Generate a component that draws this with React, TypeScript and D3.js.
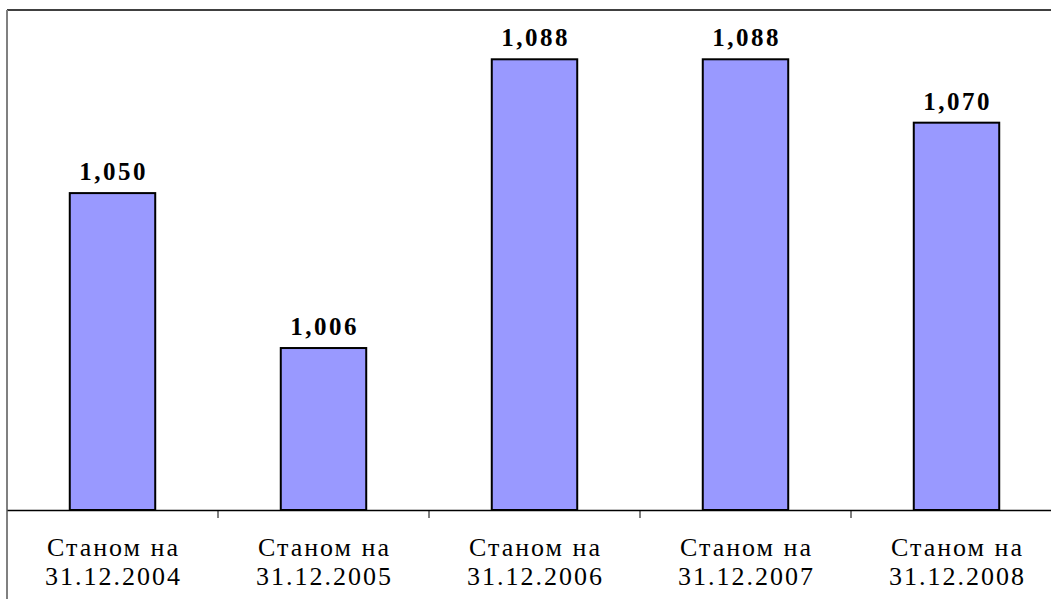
import React, { useEffect, useRef } from 'react';
import * as d3 from 'd3';

const CATEGORIES = ['31.12.2004', '31.12.2005', '31.12.2006', '31.12.2007', '31.12.2008'];
const CATEGORY_PREFIX = 'Станом на';
const VALUES = [1.05, 1.006, 1.088, 1.088, 1.07];
const Y_DOMAIN = [0.96, 1.102];

const W = 1051;
const H = 599;
const FONT = '"Liberation Serif", "Times New Roman", serif';

const App: React.FC = () => {
  const svgRef = useRef<SVGSVGElement>(null);

  useEffect(() => {
    if (!svgRef.current) return;
    const svg = d3.select(svgRef.current);
    svg.selectAll('*').remove();

    const left = 7;
    const right = 1062;
    const top = 10;
    const base = 510;

    const x = d3.scaleBand<string>().domain(CATEGORIES).range([left, right]).padding(0);
    const y = d3.scaleLinear().domain(Y_DOMAIN).range([base, top]);
    const barW = x.bandwidth() * 0.405;
    const fmt = (v: number) => d3.format('.3f')(v).replace('.', ',');
    const cx = (c: string) => (x(c) as number) + x.bandwidth() / 2;

    const g = svg.append('g');

    // frame: top line and gray left edge
    g.append('line')
      .attr('x1', left).attr('x2', W)
      .attr('y1', top).attr('y2', top)
      .attr('stroke', '#000').attr('stroke-width', 1.5);
    g.append('line')
      .attr('x1', left).attr('x2', left)
      .attr('y1', top).attr('y2', H)
      .attr('stroke', '#808080').attr('stroke-width', 2);

    // bars
    g.selectAll('rect.bar')
      .data(VALUES)
      .join('rect')
      .attr('class', 'bar')
      .attr('x', (_, i) => cx(CATEGORIES[i]) - barW / 2)
      .attr('width', barW)
      .attr('y', d => y(d))
      .attr('height', d => base - y(d))
      .attr('fill', '#9999FF')
      .attr('stroke', '#000')
      .attr('stroke-width', 2);

    // value labels
    g.selectAll('text.val')
      .data(VALUES)
      .join('text')
      .attr('class', 'val')
      .attr('x', (_, i) => cx(CATEGORIES[i]) + 1)
      .attr('y', d => y(d) - 13)
      .attr('text-anchor', 'middle')
      .attr('font-family', FONT)
      .attr('font-weight', 'bold')
      .attr('font-size', 25)
      .attr('letter-spacing', 2.5)
      .attr('fill', '#000')
      .text(d => fmt(d));

    // category axis
    const xAxis = d3.axisBottom(x).tickSize(0).tickFormat(() => '');
    const axisG = g.append('g').attr('transform', `translate(0,${base})`).call(xAxis);
    axisG.select('.domain').attr('stroke', '#000').attr('stroke-width', 1.5);

    const bounds = CATEGORIES.slice(1).map(c => x(c) as number);
    g.selectAll('line.tick-mark')
      .data(bounds)
      .join('line')
      .attr('class', 'tick-mark')
      .attr('x1', d => d).attr('x2', d => d)
      .attr('y1', base).attr('y2', base + 8)
      .attr('stroke', '#000').attr('stroke-width', 1);

    const labels = g.selectAll('text.cat')
      .data(CATEGORIES)
      .join('text')
      .attr('class', 'cat')
      .attr('text-anchor', 'middle')
      .attr('font-family', FONT)
      .attr('font-size', 26)
      .attr('letter-spacing', 2)
      .attr('fill', '#000');
    labels.append('tspan')
      .attr('x', d => cx(d) + 1)
      .attr('y', 556)
      .text(CATEGORY_PREFIX);
    labels.append('tspan')
      .attr('x', d => cx(d) + 1)
      .attr('y', 585)
      .text(d => d);
  }, []);

  return (
    <div style={{ position: 'absolute', left: 0, top: 0, width: W, height: H, background: '#fff', overflow: 'hidden' }}>
      <svg ref={svgRef} width={W} height={H} style={{ display: 'block' }}></svg>
    </div>
  );
};

export default App;
